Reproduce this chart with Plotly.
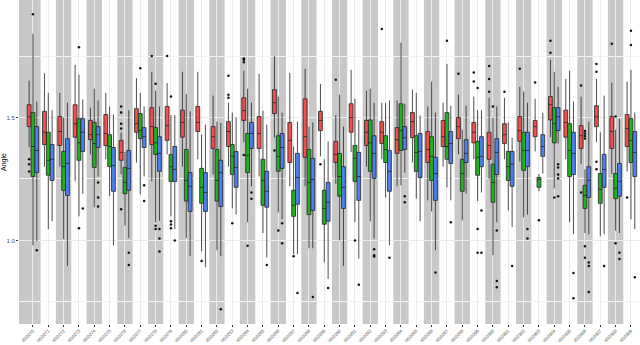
import plotly.graph_objects as go

CATS = [f"id{n}" for n in range(10270, 10310)]

# red group
RED_Q1 = [1.463, 1.39, 1.386, 1.42, 1.41, 1.386, 1.326, 1.44, 1.39, 1.407,
          1.42, 1.443, 1.374, 1.382, 1.488, 1.374, 1.516, 1.317, 1.338, 1.447,
          1.317, 1.44, 1.386, 1.394, 1.354, 1.418, 1.317, 1.382, 1.414, 1.397,
          1.33, 1.394, 1.403, 1.422, 1.49, 1.42, 1.374, 1.463, 1.374, 1.382]
RED_MED = [1.503, 1.44, 1.443, 1.475, 1.43, 1.435, 1.358, 1.475, 1.463, 1.467,
           1.48, 1.48, 1.422, 1.443, 1.528, 1.435, 1.56, 1.407, 1.422, 1.488,
           1.35, 1.50, 1.44, 1.44, 1.41, 1.483, 1.37, 1.422, 1.463, 1.44,
           1.386, 1.43, 1.447, 1.463, 1.552, 1.48, 1.426, 1.503, 1.443, 1.455]
RED_Q3 = [1.552, 1.525, 1.504, 1.552, 1.488, 1.512, 1.407, 1.536, 1.54, 1.545,
          1.53, 1.545, 1.463, 1.483, 1.58, 1.504, 1.613, 1.48, 1.576, 1.525,
          1.403, 1.556, 1.488, 1.483, 1.459, 1.52, 1.443, 1.488, 1.50, 1.48,
          1.44, 1.475, 1.504, 1.488, 1.585, 1.53, 1.467, 1.548, 1.504, 1.512]
RED_LO = [1.38, 1.30, 1.30, 1.24, 1.35, 1.33, 1.27, 1.317, 1.24, 1.35,
          1.30, 1.33, 1.268, 1.30, 1.40, 1.26, 1.418, 1.22, 1.22, 1.342,
          1.23, 1.36, 1.30, 1.33, 1.22, 1.317, 1.163, 1.30, 1.35, 1.33,
          1.25, 1.33, 1.32, 1.362, 1.42, 1.33, 1.31, 1.40, 1.27, 1.28]
RED_HI = [1.65, 1.68, 1.60, 1.714, 1.54, 1.60, 1.44, 1.66, 1.686, 1.64,
          1.686, 1.686, 1.589, 1.56, 1.69, 1.678, 1.75, 1.682, 1.698, 1.637,
          1.51, 1.694, 1.609, 1.56, 1.569, 1.613, 1.545, 1.56, 1.593, 1.585,
          1.58, 1.58, 1.625, 1.576, 1.735, 1.657, 1.585, 1.657, 1.642, 1.646]
RED_OUT = [[1.33, 1.31, 1.28], [], [], [], [], [], [1.545, 1.52, 1.475, 1.455, 1.127], [], [1.75], [1.75],
           [], [], [], [1.67, 1.593, 1.58], [1.74, 1.735, 1.725, 1.347], [], [1.366], [], [], [1.31],
           [1.654], [], [], [1.86], [], [], [], [], [1.678], [1.683, 1.646],
           [1.71, 1.657, 1.605], [1.605], [1.698], [1.642], [1.812, 1.763], [], [1.63, 1.195],
           [1.718, 1.686, 1.32, 1.29], [1.80], [1.175]]

# green group
GRN_Q1 = [1.26, 1.265, 1.204, 1.326, 1.297, 1.30, 1.19, 1.414, 1.35, 1.24,
          1.16, 1.151, 1.16, 1.268, 1.276, 1.143, 1.281, 1.098, 1.105, 1.066,
          1.18, 1.24, 1.281, 1.317, 1.366, 1.281, 1.244, 1.33, 1.20, 1.265,
          1.155, 1.244, 1.285, 1.216, 1.397, 1.26, 1.13, 1.151, 1.17, 1.317]
GRN_MED = [1.382, 1.326, 1.30, 1.397, 1.394, 1.382, 1.236, 1.447, 1.397, 1.30,
           1.244, 1.216, 1.244, 1.342, 1.346, 1.244, 1.342, 1.143, 1.236, 1.13,
           1.26, 1.334, 1.397, 1.37, 1.447, 1.358, 1.342, 1.382, 1.272, 1.338,
           1.236, 1.30, 1.366, 1.248, 1.475, 1.366, 1.183, 1.208, 1.212, 1.407]
GRN_Q3 = [1.52, 1.44, 1.362, 1.495, 1.48, 1.43, 1.297, 1.516, 1.459, 1.35,
          1.37, 1.293, 1.37, 1.39, 1.435, 1.33, 1.426, 1.204, 1.37, 1.204,
          1.354, 1.386, 1.49, 1.426, 1.556, 1.426, 1.422, 1.52, 1.33, 1.403,
          1.31, 1.362, 1.44, 1.256, 1.54, 1.475, 1.224, 1.272, 1.272, 1.495]
GRN_LO = [0.98, 1.046, 1.005, 1.098, 1.135, 1.18, 1.06, 1.187, 1.074, 1.098,
          1.01, 0.955, 0.96, 1.13, 1.074, 1.03, 1.114, 0.944, 0.968, 0.91,
          1.0, 1.074, 1.078, 1.175, 1.224, 1.17, 1.118, 1.216, 1.082, 1.16,
          0.94, 1.122, 1.094, 1.20, 1.212, 1.074, 1.03, 1.017, 1.04, 1.086]
GRN_HI = [1.84, 1.60, 1.50, 1.674, 1.617, 1.545, 1.36, 1.60, 1.609, 1.51,
          1.596, 1.43, 1.483, 1.52, 1.617, 1.528, 1.585, 1.382, 1.463, 1.33,
          1.593, 1.576, 1.617, 1.56, 1.805, 1.60, 1.646, 1.718, 1.451, 1.53,
          1.50, 1.48, 1.605, 1.27, 1.686, 1.69, 1.289, 1.44, 1.45, 1.694]
GRN_OUT = [[1.92], [], [], [1.786, 1.05], [], [], [], [1.70], [1.637, 1.06, 1.046], [1.585, 1.078, 1.065, 1.05],
           [], [0.916], [], [1.07], [0.978], [], [1.04], [0.936], [], [],
           [], [1.0], [], [], [], [], [], [1.812], [], [1.62, 1.046, 0.95],
           [1.545], [], [], [1.082], [1.175], [], [1.445, 1.435, 1.425, 1.415, 0.976, 0.93],
           [], [1.504, 0.988], [1.853, 1.795]]

# blue group
BLU_Q1 = [1.276, 1.244, 1.183, 1.362, 1.378, 1.20, 1.204, 1.378, 1.281, 1.24,
          1.118, 1.118, 1.138, 1.216, 1.374, 1.135, 1.293, 1.147, 1.122, 1.078,
          1.13, 1.163, 1.252, 1.20, 1.37, 1.256, 1.163, 1.313, 1.317, 1.30,
          1.268, 1.22, 1.30, 1.342, 1.447, 1.268, 1.175, 1.216, 1.18, 1.26]
BLU_MED = [1.366, 1.33, 1.313, 1.44, 1.43, 1.305, 1.293, 1.422, 1.354, 1.289,
           1.22, 1.195, 1.276, 1.297, 1.435, 1.20, 1.378, 1.256, 1.248, 1.155,
           1.216, 1.26, 1.354, 1.281, 1.418, 1.362, 1.272, 1.394, 1.354, 1.342,
           1.358, 1.31, 1.366, 1.382, 1.503, 1.354, 1.244, 1.289, 1.24, 1.358]
BLU_Q3 = [1.463, 1.39, 1.414, 1.495, 1.463, 1.378, 1.366, 1.459, 1.422, 1.382,
          1.276, 1.276, 1.326, 1.362, 1.48, 1.281, 1.435, 1.354, 1.334, 1.236,
          1.30, 1.358, 1.426, 1.366, 1.463, 1.435, 1.338, 1.443, 1.41, 1.422,
          1.414, 1.362, 1.44, 1.43, 1.54, 1.44, 1.30, 1.35, 1.313, 1.443]
BLU_LO = [0.997, 1.078, 0.896, 1.19, 1.26, 0.98, 1.01, 1.26, 1.08, 1.046,
          0.936, 0.891, 0.936, 1.105, 1.22, 0.93, 1.086, 0.944, 0.968, 0.843,
          0.896, 0.926, 1.008, 0.98, 1.276, 1.078, 0.96, 1.163, 1.19, 1.195,
          1.074, 1.054, 1.105, 1.272, 1.394, 1.025, 1.025, 1.025, 1.03, 1.046]
BLU_HI = [1.565, 1.53, 1.56, 1.573, 1.569, 1.512, 1.53, 1.545, 1.545, 1.51,
          1.525, 1.471, 1.478, 1.50, 1.56, 1.471, 1.52, 1.483, 1.48, 1.403,
          1.463, 1.49, 1.56, 1.569, 1.556, 1.508, 1.52, 1.548, 1.548, 1.53,
          1.545, 1.418, 1.56, 1.52, 1.625, 1.565, 1.483, 1.589, 1.495, 1.52]
BLU_OUT = [[0.96], [], [], [1.13], [1.236, 1.175, 1.138], [], [0.95, 0.90], [1.224, 1.16], [1.046, 1.008, 0.955], [1.0],
           [], [], [0.72], [], [1.195, 1.17], [0.90], [1.07, 0.988], [0.786], [0.77], [0.806],
           [], [0.82], [0.964, 0.94, 0.935], [0.93], [1.18, 1.155], [], [0.87], [1.074], [], [1.122, 0.95],
           [1.04, 0.835, 0.81], [0.896], [1.046, 1.008], [], [1.31, 1.297, 1.268, 1.252, 1.18],
           [0.867, 0.765], [0.91, 0.896, 0.79], [0.896], [0.95, 0.924], [0.85]]

GROUPS = [
    ("a", "#EF5050", RED_Q1, RED_MED, RED_Q3, RED_LO, RED_HI, RED_OUT),
    ("b", "#22B022", GRN_Q1, GRN_MED, GRN_Q3, GRN_LO, GRN_HI, GRN_OUT),
    ("c", "#4C80EE", BLU_Q1, BLU_MED, BLU_Q3, BLU_LO, BLU_HI, BLU_OUT),
]

C_STRIPE = "#C8C8C8"
C_GRID = "#EBEBEB"
C_TICK = "#4D4D4D"

fig = go.Figure()
for name, color, q1, med, q3, lo, hi, out in GROUPS:
    fig.add_trace(go.Box(
        name=name, offsetgroup=name,
        x=CATS, y=out,
        q1=q1, median=med, q3=q3, lowerfence=lo, upperfence=hi,
        boxpoints="outliers", jitter=0, pointpos=0,
        fillcolor=color, whiskerwidth=0,
        line={"color": "rgba(35,35,35,0.8)", "width": 1},
        marker={"color": "#111111", "size": 2.5, "outliercolor": "#111111",
                "line": {"width": 0}},
    ))

# alternating grey stripes behind every other id
for i in range(0, len(CATS), 2):
    fig.add_shape(type="rect", xref="x", yref="paper",
                  x0=-5 if i == 0 else i - 0.5, x1=i + 0.5, y0=0, y1=1,
                  fillcolor=C_STRIPE, line_width=0, layer="below")

fig.update_layout(
    width=640, height=345,
    margin=dict(l=19, r=0, t=0, b=21, autoexpand=False),
    paper_bgcolor="white", plot_bgcolor="white",
    boxmode="group", boxgap=0.25, boxgroupgap=0,
    showlegend=False,
    font={"family": "Liberation Sans, Arial, sans-serif", "color": C_TICK, "size": 7},
)
fig.update_xaxes(
    type="category", range=[-0.91, 39.59], automargin=False,
    tickangle=-45, tickfont={"size": 4.5, "color": C_TICK},
    ticks="outside", ticklen=1.5, tickcolor="#333333",
    showgrid=True, gridcolor=C_GRID, gridwidth=1, zeroline=False, showline=False,
)
fig.update_yaxes(
    range=[0.66, 1.978], automargin=False,
    tickvals=[1.0, 1.5], ticktext=["1.0", "1.5"],
    tickfont={"size": 6, "color": C_TICK},
    ticks="outside", ticklen=2, tickcolor="#333333",
    showgrid=True, gridcolor=C_GRID, gridwidth=1, zeroline=False, showline=False,
    minor={"tickvals": [0.75, 1.25, 1.75], "showgrid": True, "gridcolor": "#F4F4F4",
           "gridwidth": 0.6, "ticks": ""},
    title={"text": "Angle", "font": {"size": 7, "color": "#000000"}, "standoff": 1},
)

# page body has a default 8px margin; drop it so the figure fills the window
fig.write_html("out.html", config={"displayModeBar": False},
               post_script="document.body.style.margin='0';")
